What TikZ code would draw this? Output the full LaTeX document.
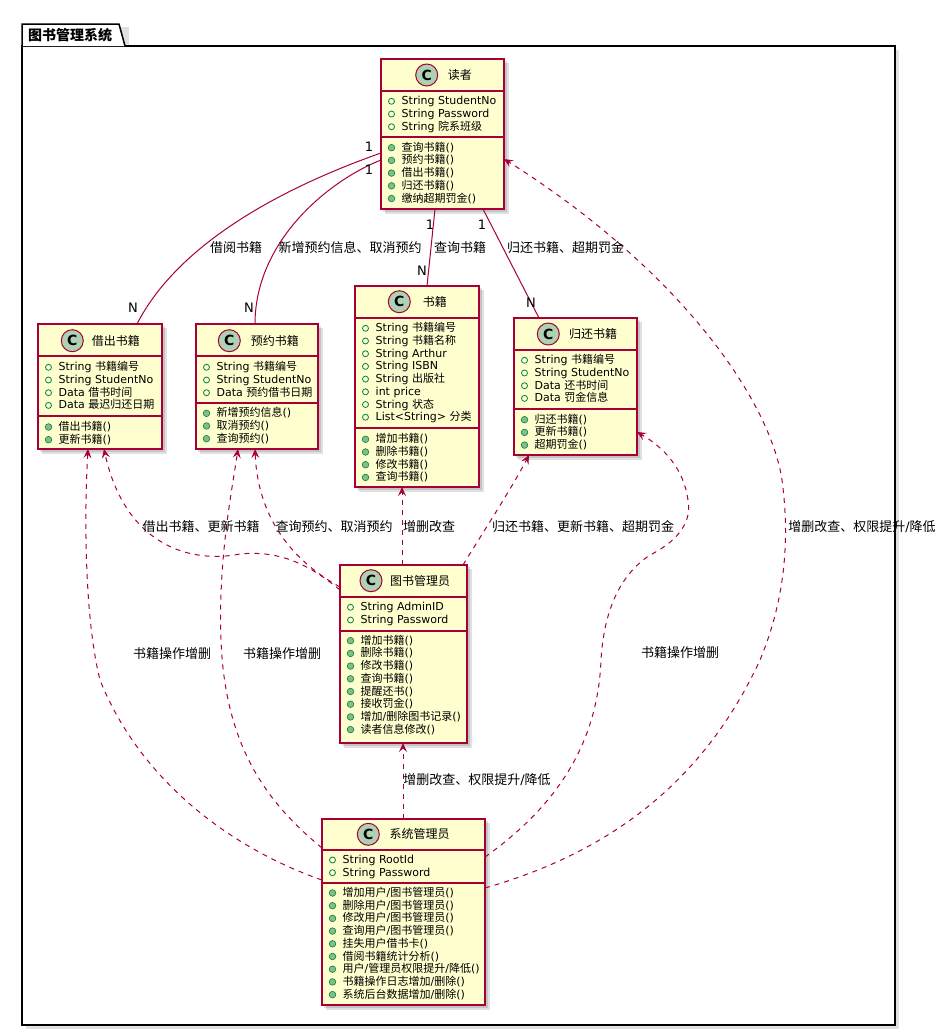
\documentclass[tikz,border=0pt]{standalone}
\usepackage{fontspec}
\setmainfont{DejaVu Sans}
\newfontfamily\cjkfont{Noto Sans CJK SC}
\usetikzlibrary{calc,fit,arrows.meta}
\XeTeXinterchartokenstate=1
\newXeTeXintercharclass\CJKcls
\newcount\cjkc
\def\setcjkrange#1#2{\cjkc=#1 \loop\XeTeXcharclass\cjkc=\CJKcls\relax\ifnum\cjkc<#2 \advance\cjkc by 1 \repeat}
\setcjkrange{"3000}{"303F}
\setcjkrange{"4E00}{"9FFF}
\setcjkrange{"FF00}{"FFEF}
\XeTeXinterchartoks 0 \CJKcls = {\begingroup\cjkfont}
\XeTeXinterchartoks 4095 \CJKcls = {\begingroup\cjkfont}
\XeTeXinterchartoks \CJKcls 0 = {\endgroup}
\XeTeXinterchartoks \CJKcls 4095 = {\endgroup}
\definecolor{clsfill}{HTML}{FEFECE}
\definecolor{clsborder}{HTML}{A80036}
\definecolor{circfill}{HTML}{ADD1B2}
\definecolor{attrgreen}{HTML}{038048}
\definecolor{methfill}{HTML}{84BE84}
\tikzset{
 clsbox/.style={rectangle, draw=clsborder, fill=clsfill, line width=1.2pt, inner sep=0pt, outer sep=0pt},
 sepline/.style={draw=clsborder, line width=1.2pt},
 circC/.style={circle, draw=clsborder, fill=circfill, line width=1pt, minimum size=22pt, inner sep=0pt, font=\fontsize{14}{14}\selectfont\bfseries},
 clstitle/.style={anchor=west, inner sep=0pt, font=\fontsize{12}{14}\selectfont},
 mem/.style={anchor=west, inner sep=0pt, text height=9pt, text depth=2pt, font=\fontsize{11}{13}\selectfont},
 attrmark/.style={draw=attrgreen, line width=0.8pt},
 methmark/.style={draw=attrgreen, fill=methfill, line width=0.6pt},
 assoc/.style={draw=clsborder, line width=1pt},
 dep/.style={draw=clsborder, line width=1pt, dash pattern=on 5pt off 5pt, -{Stealth[length=9pt,width=8pt,inset=3.5pt]}},
 elabel/.style={inner sep=0pt, font=\fontsize{13}{15}\selectfont},
 multlabel/.style={inner sep=0pt, font=\fontsize{13}{15}\selectfont},
 dropshadow/.style={fill=black, opacity=0.12},
 pkgtitle/.style={anchor=west, inner sep=0pt, font=\fontsize{14}{16}\selectfont\bfseries},
}
\newcommand\boxshadow[4]{%
  \fill[dropshadow] (#1+2,#2+2) rectangle (#3+3,#4+3);
  \fill[dropshadow] (#1+4,#2+4) rectangle (#3+5,#4+5);}
\newcommand\umlclass[7]{%
  \boxshadow{#2}{#3}{#4}{#5}
  \node[clsbox, fit={(#2,#3) (#4,#5)}] (#1) {};
  \draw[sepline] (#2,#6) -- (#4,#6);
  \draw[sepline] (#2,#7) -- (#4,#7);}
\newcommand\attrs[4]{%
  \foreach \t [count=\i] in {#4}{%
    \pgfmathsetmacro\yy{#3+(\i-1)*12.7}
    \draw[attrmark] (#2+10.5,\yy) circle (3pt);
    \node[mem] (#1-a\i) at (#2+20.5,\yy) {\t};}}
\newcommand\meths[4]{%
  \foreach \t [count=\i] in {#4}{%
    \pgfmathsetmacro\yy{#3+(\i-1)*12.7}
    \draw[methmark] (#2+10.5,\yy) circle (3.3pt);
    \node[mem] (#1-m\i) at (#2+20.5,\yy) {\t};}}
\begin{document}
\begin{tikzpicture}[x=1pt,y=-1pt]
\useasboundingbox (0,0) rectangle (947,1034);
% package
\fill[dropshadow] (25,27) rectangle (129,49);
\fill[dropshadow] (26,50) rectangle (899,1029);
\draw[line width=1.5pt, fill=white] (22,46) rectangle (895,1025);
\draw[line width=1.5pt, fill=white] (22,46) -- (22,24) -- (119,24) -- (125,46);
\node[pkgtitle] (pkg-t) at (28,35) {图书管理系统};

% classes
\umlclass{reader}{381}{59}{504}{209}{91}{137}
\node[circC] (reader-c) at (426.7,75) {C};
\node[clstitle] (reader-t) at (447.7,75) {读者};
\attrs{reader}{381}{101.3}{String StudentNo,String Password,String 院系班级}
\meths{reader}{381}{147.7}{查询书籍(),预约书籍(),借出书籍(),归还书籍(),缴纳超期罚金()}

\umlclass{borrow}{38}{324}{162}{449}{356}{416}
\node[circC] (borrow-c) at (72.3,340.7) {C};
\node[clstitle] (borrow-t) at (91.7,340.7) {借出书籍};
\attrs{borrow}{38}{367.3}{String 书籍编号,String StudentNo,Data 借书时间,Data 最迟归还日期}
\meths{borrow}{38}{427}{借出书籍(),更新书籍()}

\umlclass{reserve}{196}{324}{318}{449}{356}{403}
\node[circC] (reserve-c) at (229.3,340.7) {C};
\node[clstitle] (reserve-t) at (250.7,340.7) {预约书籍};
\attrs{reserve}{196}{367.3}{String 书籍编号,String StudentNo,Data 预约借书日期}
\meths{reserve}{196}{413.3}{新增预约信息(),取消预约(),查询预约()}

\umlclass{book}{355}{286}{479}{487}{318}{428}
\node[circC] (book-c) at (399.3,301.7) {C};
\node[clstitle] (book-t) at (422.7,301.7) {书籍};
\attrs{book}{355}{328.3}{String 书籍编号,String 书籍名称,String Arthur,String ISBN,String 出版社,int price,String 状态,List<String> 分类}
\meths{book}{355}{439.3}{增加书籍(),删除书籍(),修改书籍(),查询书籍()}

\umlclass{ret}{514}{318}{637}{455}{350}{409}
\node[circC] (ret-c) at (548.3,334) {C};
\node[clstitle] (ret-t) at (569,334) {归还书籍};
\attrs{ret}{514}{360.3}{String 书籍编号,String StudentNo,Data 还书时间,Data 罚金信息}
\meths{ret}{514}{419.7}{归还书籍(),更新书籍(),超期罚金()}

\umlclass{lib}{340}{565}{467}{743}{597}{631}
\node[circC] (lib-c) at (371,580.7) {C};
\node[clstitle] (lib-t) at (390,580.7) {图书管理员};
\attrs{lib}{340}{607.3}{String AdminID,String Password}
\meths{lib}{340}{640.7}{增加书籍(),删除书籍(),修改书籍(),查询书籍(),提醒还书(),接收罚金(),增加/删除图书记录(),读者信息修改()}

\umlclass{sys}{322}{819}{485}{1005}{850}{883}
\node[circC] (sys-c) at (368.3,834.3) {C};
\node[clstitle] (sys-t) at (389.3,834.3) {系统管理员};
\attrs{sys}{322}{860}{String RootId,String Password}
\meths{sys}{322}{893}{增加用户/图书管理员(),删除用户/图书管理员(),修改用户/图书管理员(),查询用户/图书管理员(),挂失用户借书卡(),借阅书籍统计分析(),用户/管理员权限提升/降低(),书籍操作日志增加/删除(),系统后台数据增加/删除()}

% associations
\draw[assoc] ($(reader.north west)+(0,94)$) .. controls (290,185) and (180,240) .. ($(borrow.north west)+(99,0)$);
\draw[assoc] ($(reader.north west)+(0,101)$) .. controls (330,180) and (255,240) .. ($(reserve.north west)+(59,0)$);
\draw[assoc] ($(reader.south west)+(54,0)$) -- ($(book.north west)+(72,0)$);
\draw[assoc] ($(reader.south west)+(102,0)$) -- ($(ret.north west)+(25,0)$);

% dependencies
\draw[dep] ($(lib.north west)+(0,25)$) .. controls (310,565) and (280,550) .. (240,554) .. controls (190,564) and (125,545) .. ($(borrow.south west)+(66,0)$);
\draw[dep] ($(lib.north west)+(0,22)$) .. controls (300,565) and (258,525) .. ($(reserve.south west)+(59,0)$);
\draw[dep] ($(sys.north west)+(0,29)$) .. controls (270,805) and (225,750) .. (221,640) .. controls (218,560) and (232,490) .. ($(reserve.south west)+(42,0)$);
\draw[dep] ($(sys.north west)+(0,61)$) .. controls (230,848) and (140,780) .. (100,680) .. controls (85,620) and (84,520) .. ($(borrow.south west)+(50,0)$);
\draw[dep] ($(lib.north west)+(62,0)$) -- ($(book.south west)+(47,0)$);
\draw[dep] ($(lib.north east)+(-4,0)$) .. controls (475,545) and (512,488) .. ($(ret.south west)+(15,0)$);
\draw[dep] ($(sys.north east)+(0,38)$) .. controls (565,800) and (598,735) .. (601,660) .. controls (604,610) and (620,575) .. (650,555) .. controls (680,540) and (692,520) .. (688,500) .. controls (684,470) and (665,448) .. ($(ret.south east)+(0,-23)$);
\draw[dep] ($(sys.north east)+(0,69)$) .. controls (600,855) and (700,790) .. (760,660) .. controls (785,600) and (790,540) .. (782,480) .. controls (770,400) and (680,270) .. ($(reader.north east)+(0,100)$);
\draw[dep] ($(sys.north west)+(81,0)$) -- ($(lib.south west)+(63,0)$);

% labels
\node[elabel] (l1) at (236,248) {借阅书籍};
\node[elabel] (l2) at (350,248) {新增预约信息、取消预约};
\node[elabel] (l3) at (460,248) {查询书籍};
\node[elabel] (l4) at (565.5,248) {归还书籍、超期罚金};
\node[elabel] (l5) at (201,527) {借出书籍、更新书籍};
\node[elabel] (l6) at (334,527) {查询预约、取消预约};
\node[elabel] (l7) at (429,527) {增删改查};
\node[elabel] (l8) at (583,527) {归还书籍、更新书籍、超期罚金};
\node[elabel] (l9) at (862,527) {增删改查、权限提升/降低};
\node[elabel] (l10) at (172,654) {书籍操作增删};
\node[elabel] (l11) at (282,654) {书籍操作增删};
\node[elabel] (l12) at (680,653) {书籍操作增删};
\node[elabel] (l13) at (477,780) {增删改查、权限提升/降低};

% multiplicities
\node[multlabel] (m1a) at (369,147) {1};
\node[multlabel] (m1b) at (133,308) {N};
\node[multlabel] (m2a) at (369,170) {1};
\node[multlabel] (m2b) at (249,308) {N};
\node[multlabel] (m3a) at (430,225) {1};
\node[multlabel] (m3b) at (422,271) {N};
\node[multlabel] (m4a) at (482,225) {1};
\node[multlabel] (m4b) at (531,303) {N};
\end{tikzpicture}
\end{document}
